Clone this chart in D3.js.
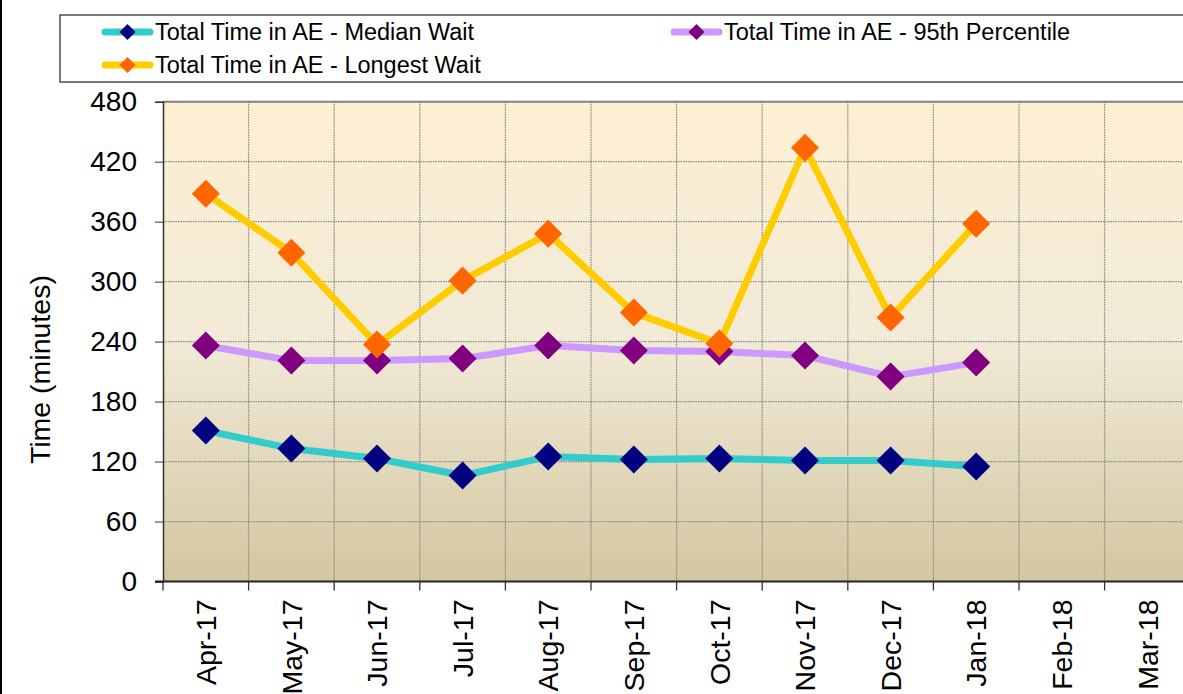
<!DOCTYPE html>
<html>
<head>
<meta charset="utf-8">
<script src="https://cdn.jsdelivr.net/npm/d3@7"></script>
<style>
  body { margin: 0; background: #fff; }
  svg { display: block; font-family: "Liberation Sans", Arial, sans-serif; }
</style>
</head>
<body>
<svg id="chart" width="1183" height="694"></svg>
<script>
// Data
var months = ["Apr-17", "May-17", "Jun-17", "Jul-17", "Aug-17", "Sep-17",
              "Oct-17", "Nov-17", "Dec-17", "Jan-18", "Feb-18", "Mar-18"];
var medianWait = [151, 133, 123, 106, 125, 122, 123, 121, 121, 115];
var pct95 = [236, 221, 221, 223, 236, 231, 230, 226, 205, 219];
var longestWait = [388, 329, 237, 301, 348, 269, 238, 434, 264, 358];
var yTicks = [0, 60, 120, 180, 240, 300, 360, 420, 480];

var seriesNames = ["Total Time in AE - Median Wait",
                   "Total Time in AE - 95th Percentile",
                   "Total Time in AE - Longest Wait"];

// SVG Variables
var svg = d3.select("#chart");
var margin = {left: 163, top: 101.7, bottom: 581.5};
var catWidth = 85.6;

var series = [
    {name: seriesNames[0], values: medianWait, line: "#33cccc", marker: "#000080"},
    {name: seriesNames[1], values: pct95, line: "#cc99ff", marker: "#800080"},
    {name: seriesNames[2], values: longestWait, line: "#ffcc00", marker: "#ff6600"}
];

// Scales
var x = d3.scaleBand().domain(months)
    .range([margin.left, margin.left + catWidth * months.length])
    .paddingInner(0).paddingOuter(0);
var y = d3.scaleLinear().domain([0, 480]).range([margin.bottom, margin.top]);

// Outer frame
svg.append("rect")
    .attr("x", 1).attr("y", -5).attr("width", 1300).attr("height", 800)
    .attr("fill", "#fff").attr("stroke", "#000").attr("stroke-width", 2);

// Plot background gradient
var grad = svg.append("defs").append("linearGradient")
    .attr("id", "bg").attr("x1", 0).attr("y1", 0).attr("x2", 0).attr("y2", 1);
grad.append("stop").attr("offset", "0%").attr("stop-color", "#fdefd3");
grad.append("stop").attr("offset", "50%").attr("stop-color", "#f1ead6");
grad.append("stop").attr("offset", "100%").attr("stop-color", "#d3c6a1");

svg.append("rect")
    .attr("x", x.range()[0]).attr("y", y(480))
    .attr("width", x.range()[1] - x.range()[0]).attr("height", y(0) - y(480))
    .attr("fill", "url(#bg)");

// Horizontal grid
svg.append("g").selectAll("line").data(yTicks.slice(1, -1)).enter().append("line")
    .attr("x1", x.range()[0]).attr("x2", x.range()[1])
    .attr("y1", function(d) { return y(d); })
    .attr("y2", function(d) { return y(d); })
    .attr("stroke", "#8a8a8a").attr("stroke-width", 1.3)
    .attr("stroke-dasharray", "1.5,1");

// Vertical grid at category boundaries
svg.append("g").selectAll("line").data(months.slice(1)).enter().append("line")
    .attr("x1", function(d) { return x(d); })
    .attr("x2", function(d) { return x(d); })
    .attr("y1", y(480)).attr("y2", y(0))
    .attr("stroke", "#8a8a8a").attr("stroke-width", 1.3)
    .attr("stroke-dasharray", "1.5,1");

// Top border of plot
svg.append("line")
    .attr("x1", x.range()[0]).attr("x2", x.range()[1])
    .attr("y1", y(480)).attr("y2", y(480))
    .attr("stroke", "#808080").attr("stroke-width", 2);

// Y axis
var yAxis = svg.append("g")
    .attr("transform", "translate(" + margin.left + ",0)")
    .call(d3.axisLeft(y).tickValues(yTicks).tickSize(8).tickPadding(18));
yAxis.select(".domain").attr("stroke", "#333").attr("stroke-width", 1.5);
yAxis.selectAll(".tick line").attr("stroke", "#333");
yAxis.selectAll("text").attr("font-size", "28px").attr("fill", "#000")
    .attr("font-family", "Liberation Sans, Arial, sans-serif");

// X axis (ticks between categories)
var xAxis = svg.append("g")
    .attr("transform", "translate(0," + margin.bottom + ")");
xAxis.append("line")
    .attr("x1", x.range()[0] - 8).attr("x2", x.range()[1])
    .attr("stroke", "#222").attr("stroke-width", 2);
xAxis.selectAll(".tk").data(months).enter().append("line")
    .attr("x1", function(d) { return x(d); })
    .attr("x2", function(d) { return x(d); })
    .attr("y1", 0).attr("y2", 9)
    .attr("stroke", "#333").attr("stroke-width", 1.3);
xAxis.selectAll("text").data(months).enter().append("text")
    .attr("transform", function(d) {
        return "translate(" + (x(d) + x.bandwidth() / 2) + ",18) rotate(-90)";
    })
    .attr("text-anchor", "end")
    .attr("dy", "0.36em")
    .attr("font-size", "28.5px")
    .text(function(d) { return d; });

// Y label
svg.append("text")
    .attr("transform", "translate(40," + ((y(0) + y(480)) / 2 + 28) + ") rotate(-90)")
    .attr("text-anchor", "middle")
    .attr("dy", "0.36em")
    .attr("font-size", "28.5px")
    .text("Time (minutes)");

// Lines and markers
var line = d3.line()
    .x(function(d, i) { return x(months[i]) + x.bandwidth() / 2; })
    .y(function(d) { return y(d); });

var diamond = d3.symbol().type(d3.symbolDiamond2);

series.forEach(function(s) {
    svg.append("path")
        .attr("d", line(s.values))
        .attr("fill", "none")
        .attr("stroke", s.line)
        .attr("stroke-width", 7)
        .attr("stroke-linejoin", "round");
});
series.forEach(function(s) {
    svg.append("g").selectAll("path").data(s.values).enter().append("path")
        .attr("d", diamond.size(500))
        .attr("transform", function(d, i) {
            return "translate(" + (x(months[i]) + x.bandwidth() / 2) + "," + y(d) + ")";
        })
        .attr("fill", s.marker);
});

// Legend
var legend = svg.append("g");
legend.append("rect")
    .attr("x", 60).attr("y", 15).attr("width", 1200).attr("height", 67)
    .attr("fill", "#fff").attr("stroke", "#222").attr("stroke-width", 1.2);

var legendPos = [[102, 32], [671, 32], [102, 65]];
series.forEach(function(s, i) {
    var g = legend.append("g")
        .attr("transform", "translate(" + legendPos[i][0] + "," + legendPos[i][1] + ")");
    g.append("line")
        .attr("x1", 3).attr("x2", 48)
        .attr("stroke", s.line).attr("stroke-width", 7)
        .attr("stroke-linecap", "round");
    g.append("path")
        .attr("d", diamond.size(165))
        .attr("transform", "translate(25.5,0)")
        .attr("fill", s.marker);
    g.append("text")
        .attr("x", 53).attr("dy", "0.36em")
        .attr("font-size", "23.5px")
        .text(s.name);
});
</script>
</body>
</html>
